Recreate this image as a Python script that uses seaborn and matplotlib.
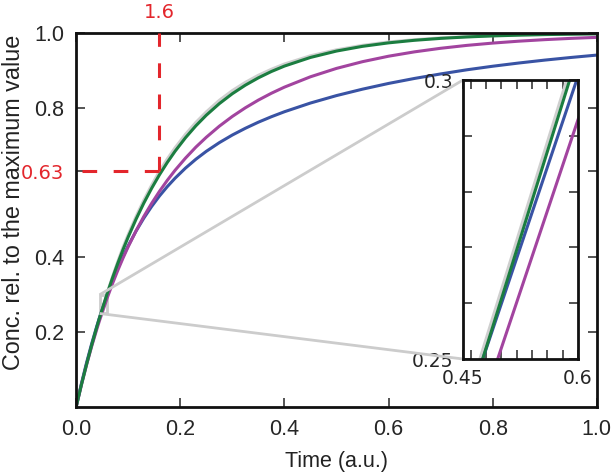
import matplotlib
matplotlib.use("Agg")
import matplotlib.pyplot as plt
import seaborn as sns
from mpl_toolkits.axes_grid1.inset_locator import mark_inset

# values
time = [0.0, 0.01, 0.02, 0.03, 0.04, 0.045, 0.06, 0.07, 0.08, 0.09, 0.10, 0.115,
        0.13, 0.145, 0.16, 0.175, 0.19, 0.21, 0.23, 0.25, 0.275, 0.30, 0.325, 0.35,
        0.375, 0.40, 0.45, 0.50, 0.55, 0.60, 0.65, 0.70, 0.75, 0.80, 0.85, 0.90,
        0.95, 1.00]
conc_gray = [0.0, 0.058, 0.113, 0.165, 0.213, 0.2403, 0.3065, 0.349, 0.389, 0.427,
             0.461, 0.509, 0.553, 0.593, 0.630, 0.663, 0.693, 0.729, 0.761, 0.789,
             0.820, 0.846, 0.868, 0.887, 0.903, 0.917, 0.939, 0.955, 0.967, 0.976,
             0.982, 0.987, 0.990, 0.993, 0.995, 0.996, 0.997, 0.998]
conc_blue = [0.0, 0.0617, 0.1182, 0.1699, 0.2173, 0.2395, 0.3007, 0.3375, 0.3712,
             0.4023, 0.4311, 0.4702, 0.5050, 0.5361, 0.5641, 0.5891, 0.6117, 0.6387,
             0.6625, 0.6836, 0.7068, 0.7272, 0.7452, 0.7615, 0.7761, 0.7894, 0.8127,
             0.8326, 0.8498, 0.8651, 0.8785, 0.8905, 0.9015, 0.9111, 0.9197, 0.9275,
             0.9345, 0.9409]
conc_purple = [0.0, 0.0585, 0.1128, 0.1629, 0.2094, 0.2315, 0.2929, 0.3304, 0.3653,
               0.3980, 0.4286, 0.4708, 0.5094, 0.5444, 0.5765, 0.6059, 0.6329, 0.6654,
               0.6949, 0.7212, 0.7508, 0.7769, 0.8000, 0.8206, 0.8389, 0.8552, 0.8829,
               0.9053, 0.9233, 0.9379, 0.9496, 0.9591, 0.9668, 0.9730, 0.9781, 0.9822,
               0.9856, 0.9883]
conc_green = [0.0, 0.0588, 0.1142, 0.1663, 0.2153, 0.2387, 0.3048, 0.3457, 0.3842,
              0.4205, 0.4545, 0.5019, 0.5452, 0.5847, 0.6208, 0.6537, 0.6838, 0.7199,
              0.7519, 0.7802, 0.8111, 0.8377, 0.8605, 0.8801, 0.8970, 0.9115, 0.9346,
              0.9517, 0.9643, 0.9736, 0.9805, 0.9856, 0.9894, 0.9922, 0.9942, 0.9957,
              0.9968, 0.9977]

tau_time = 0.16
tau_level = 0.63
tau_label = "1.6"

main_xticks = [0.0, 0.2, 0.4, 0.6, 0.8, 1.0]
main_yticks = [0.2, 0.4, 0.63, 0.8, 1.0]
main_ylabels = ["0.2", "0.4", "0.63", "0.8", "1.0"]
zoom_xlim = (0.045, 0.06)
zoom_ylim = (0.25, 0.30)
zoom_xlabels = ["0.45", "0.6"]
zoom_ylabels = ["0.25", "0.3"]
zoom_xminor = [0.046, 0.048, 0.050, 0.052, 0.054, 0.056, 0.058]
zoom_yminor = [0.26, 0.27, 0.28, 0.29]

curves = [(conc_gray, "#cfcfcf"), (conc_blue, "#3953a4"),
          (conc_purple, "#a2449f"), (conc_green, "#1b7d40")]
red = "#e3262c"

sns.set_style("ticks")
plt.rcParams["font.family"] = ["Liberation Sans", "DejaVu Sans"]

fig = plt.figure(figsize=(6.14, 4.74), dpi=100)
ax = fig.add_axes([0.124, 0.1414, 0.848, 0.789])

for vals, col in curves:
    sns.lineplot(x=time, y=vals, color=col, linewidth=2.2, ax=ax)

# tau marker, dashes start at the corner
ax.plot([tau_time, 0], [tau_level, tau_level], color=red, lw=2.2,
        dashes=(4.8, 5.4), zorder=5)
ax.plot([tau_time, tau_time], [tau_level, 1.0], color=red, lw=2.2,
        dashes=(4.8, 5.4), zorder=5)
ax.text(tau_time, 1.029, tau_label, color=red, ha="center", va="bottom",
        fontsize=14, family="DejaVu Sans")

ax.set_xlim(0, 1)
ax.set_ylim(0, 1)
ax.set_xticks(main_xticks)
ax.set_yticks(main_yticks)
ax.set_yticklabels(main_ylabels)
ax.tick_params(direction="in", top=True, right=True, length=6.5, width=1.1,
               labelsize=15.5, pad=8.5)
lab = ax.get_yticklabels()[2]
lab.set_color(red)
lab.set_fontfamily("DejaVu Sans")
lab.set_fontsize(14)
ax.set_xlabel("Time (a.u.)", fontsize=15.5, color="#222222", labelpad=8)
ax.set_ylabel("Conc. rel. to the maximum value", fontsize=16.8, color="#222222")
ax.yaxis.set_label_coords(-0.099, 0.548)
for s in ax.spines.values():
    s.set_linewidth(2)
    s.set_color("#111111")

# zoomed inset
axins = fig.add_axes([0.7541, 0.2426, 0.1873, 0.5886])
for vals, col in curves:
    sns.lineplot(x=time, y=vals, color=col, linewidth=2.2, ax=axins)
axins.set_xlim(*zoom_xlim)
axins.set_ylim(*zoom_ylim)
axins.set_xticks(list(zoom_xlim))
axins.set_xticklabels(zoom_xlabels)
axins.set_yticks(list(zoom_ylim))
axins.set_yticklabels(zoom_ylabels)
axins.set_xticks(zoom_xminor, minor=True)
axins.set_yticks(zoom_yminor, minor=True)
axins.tick_params(which="both", direction="in", top=True, right=True,
                  length=6.5, width=1.1, labelsize=13.5, pad=7)
for t in axins.get_xticklabels() + axins.get_yticklabels():
    t.set_fontfamily("DejaVu Sans")
axins.set_xlabel("")
axins.set_ylabel("")
for s in axins.spines.values():
    s.set_linewidth(2)
    s.set_color("#111111")

mark_inset(ax, axins, loc1=2, loc2=3, fc="none", ec="#cccccc", lw=2)

fig.savefig("out.png", dpi=100)
